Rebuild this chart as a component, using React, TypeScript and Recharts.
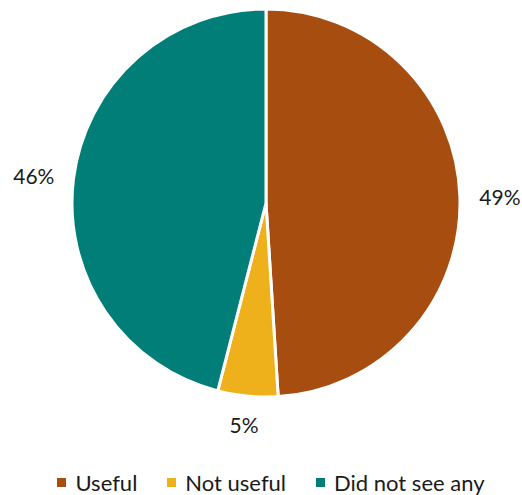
import React from "react";
import { PieChart, Pie, Cell, Legend } from "recharts";

const categories = ["Useful", "Not useful", "Did not see any"];
const shares = [49, 5, 46];
const colors = ["#A74D0F", "#EEB11B", "#017E78"];

const data = categories.map((name, i) => ({ name, value: shares[i] }));

const FONT = "Lato, 'Open Sans', sans-serif";
const RAD = Math.PI / 180;

function renderLabel(props: any) {
  const { cx, cy, midAngle, outerRadius, value } = props;
  const gap = 20;
  const hw = 20;
  const hh = 8;
  const c = Math.cos(-midAngle * RAD);
  const s = Math.sin(-midAngle * RAD);
  const x = cx + (outerRadius + gap + hw) * c;
  const y = cy + (outerRadius + gap + hh) * s;
  return (
    <text
      x={x}
      y={y}
      textAnchor="middle"
      dominantBaseline="central"
      fill="#1a1a1a"
      fontSize={21}
      fontFamily={FONT}
    >
      {`${value}%`}
    </text>
  );
}

function LegendContent(props: any) {
  const items = [...(props.payload || [])].sort(
    (a: any, b: any) => categories.indexOf(a.value) - categories.indexOf(b.value)
  );
  return (
    <div
      style={{
        display: "flex",
        justifyContent: "center",
        alignItems: "center",
        paddingLeft: 20,
        fontFamily: FONT,
        fontSize: 22,
        color: "#1a1a1a",
      }}
    >
      {items.map((it: any, i: number) => (
        <div key={i} style={{ display: "flex", alignItems: "center", marginLeft: i === 0 ? 0 : 30 }}>
          <span style={{ width: 9, height: 9, background: it.color, marginRight: 9, display: "inline-block" }} />
          <span>{it.value}</span>
        </div>
      ))}
    </div>
  );
}

export default function App() {
  return (
    <div style={{ position: "absolute", left: 0, top: 0, background: "#fff" }}>
      <PieChart width={522} height={495} margin={{ top: 0, right: 0, bottom: 0, left: 0 }}>
        <Pie
          data={data}
          dataKey="value"
          nameKey="name"
          cx={266}
          cy={203}
          outerRadius={194}
          startAngle={90}
          endAngle={-270}
          stroke="#ffffff"
          strokeWidth={3}
          label={renderLabel}
          labelLine={false}
          isAnimationActive={false}
        >
          {data.map((d, i) => (
            <Cell key={d.name} fill={colors[i]} />
          ))}
        </Pie>
        <Legend
          content={<LegendContent />}
          wrapperStyle={{ top: 469, left: 0, width: 522, height: 28 }}
        />
      </PieChart>
    </div>
  );
}
